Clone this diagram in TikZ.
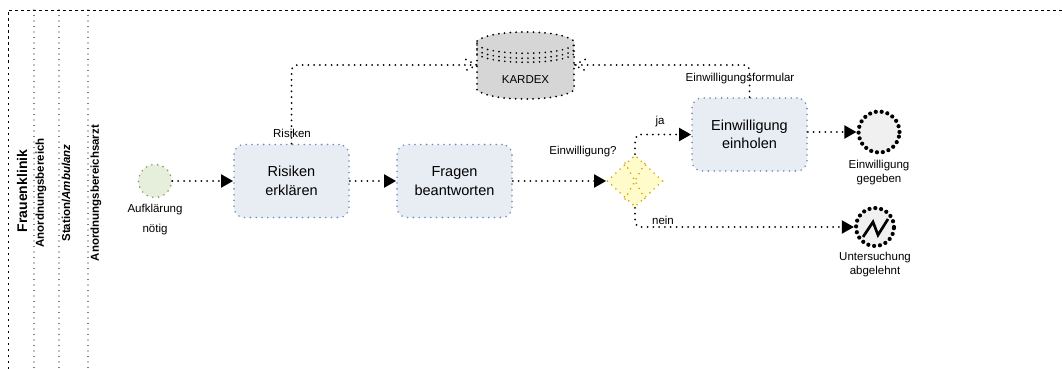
\documentclass[tikz,border=0pt]{standalone}
\usepackage{fontspec}
\setmainfont{Liberation Sans}
\usetikzlibrary{arrows.meta,shapes.geometric}
\definecolor{taskfill}{HTML}{E8EDF4}
\definecolor{taskline}{HTML}{6C8EBF}
\definecolor{gatefill}{HTML}{FFFBCB}
\definecolor{gateline}{HTML}{D6A300}
\definecolor{startfill}{HTML}{E6EFDC}
\definecolor{startline}{HTML}{82A35C}

\begin{document}
\begin{tikzpicture}
  [x=1pt,y=-1pt,align=center,font=\fontsize{11.5}{14}\selectfont,
   dots/.style={line cap=round,dash pattern=on 0pt off 5.8pt},
   flow/.style={draw,dots,line width=2pt,rounded corners=6pt,-{Triangle[length=12pt,width=13pt]}},
   ref/.style={draw,dots,line width=2pt,rounded corners=6pt},
   lane/.style={draw,line width=1.3pt,line cap=round,dash pattern=on 0pt off 5.5pt},
   lanetitle/.style={rotate=90,font=\fontsize{11.5}{12}\selectfont\bfseries,inner sep=0pt},
   taskbox/.style={rectangle,rounded corners=10pt,draw=taskline,dots,line width=1.8pt,fill=taskfill,
     minimum width=115pt,minimum height=73pt,font=\fontsize{14.5}{18.5}\selectfont},
   gatebox/.style={diamond,aspect=1.08,draw=gateline,dots,line width=1.8pt,fill=gatefill,inner sep=0pt,
     minimum width=56pt,minimum height=52pt},
   startev/.style={circle,draw=startline,dots,line width=1.8pt,fill=startfill,inner sep=0pt,minimum size=33pt},
   endev/.style={circle,draw,line cap=round,dash pattern=on 0pt off 5.9pt,line width=4.2pt,fill=black!6,inner sep=0pt}]

  \useasboundingbox (0,0) rectangle (1062,369);

  % pool and lanes
  \draw [line width=.9pt,dash pattern=on 2.5pt off 3.5pt] (8,369) -- (8,10) -- (1062,10);
  \draw [lane] (34,10) -- (34,369);
  \draw [lane] (59,10) -- (59,369);
  \draw [lane] (88,10) -- (88,369);
  \node (klinik) [lanetitle,font=\fontsize{14}{16}\selectfont\bfseries] at (22,191) {Frauenklinik};
  \node (bereich) [lanetitle] at (41,193) {Anordnungsbereich};
  \node (station) [lanetitle] at (66,193) {Station/\textit{Ambulanz}};
  \node (arzt) [lanetitle] at (96,193) {Anordnungsbereichsarzt};

  % data store
  \draw [dots,line width=2pt,fill=black!16]
    (477,41) .. controls (490,29) and (561,29) .. (574,41) -- (574,90)
    .. controls (561,102) and (490,102) .. (477,90) -- cycle;
  \draw [dots,line width=1.9pt] (477,45) .. controls (490,56) and (561,56) .. (574,45);
  \draw [dots,line width=1.9pt] (477,50) .. controls (490,61) and (561,61) .. (574,50);
  \draw [dots,line width=1.9pt] (477,54) .. controls (490,65) and (561,65) .. (574,54);
  \node (kardex) [rectangle,minimum width=97pt,minimum height=66pt,inner sep=0pt] at (525.5,65) {};
  \node (kardextext) at (525.5,80) {KARDEX};

  \node (start) [startev] at (155,181) {};
  \node (risiken) [taskbox,right of=start,node distance=136.5pt] {Risiken\\erklären};
  \node (fragen) [taskbox,right of=risiken,node distance=163pt] {Fragen\\beantworten};
  \node (gate) [gatebox,right of=fragen,node distance=180.5pt] {};
  \node (einholen) [taskbox] at (749.5,134.5) {Einwilligung\\einholen};
  \node (gegeben) [endev,minimum size=41pt] at (879,132) {};
  \node (abgelehnt) [endev,minimum size=38pt] at (875,227) {};

  % gateway cross
  \draw [dots,line width=1.8pt,draw=gateline] ([shift={(-10,-18)}]gate.center) -- ([shift={(10,18)}]gate.center);
  \draw [dots,line width=1.8pt,draw=gateline] ([shift={(-10,18)}]gate.center) -- ([shift={(10,-18)}]gate.center);

  % lightning
  \draw [line width=2.7pt,line join=miter] (863,237) -- (873,222) -- (878,235) -- (888,219);

  \node (startlabel) [font=\fontsize{11.5}{20}\selectfont] at (155,220) {Aufklärung\\nötig};
  \node (gegebenlabel) at (879,172.5) {Einwilligung\\gegeben};
  \node (abgelehntlabel) at (875,264.5) {Untersuchung\\abgelehnt};
  \node (gatelabel) at (583,152) {Einwilligung?};
  \node (jalabel) at (660,122) {ja};
  \node (neinlabel) at (663,220) {nein};
  \node (risikenlabel) at (292,133) {Risiken};
  \node (formlabel) at (740,79) {Einwilligungsformular};

  \draw [flow] (start) -- (risiken);
  \draw [flow] (risiken) -- (fragen);
  \draw [flow] (fragen) -- (gate);
  \draw [flow] (gate.north) |- (einholen.west);
  \draw [flow] (gate.south) |- (abgelehnt.west);
  \draw [flow] (einholen.east |- gegeben) -- (gegeben.west);

  \draw [ref] (risiken.north) |- (kardex.west);
  \draw [ref] (einholen.north) |- (kardex.east);
  \draw [dots,line width=2pt] ([shift={(-11,-5.5)}]kardex.west) -- (kardex.west) -- ([shift={(-11,5.5)}]kardex.west);
  \draw [dots,line width=2pt] ([shift={(11,-5.5)}]kardex.east) -- (kardex.east) -- ([shift={(11,5.5)}]kardex.east);
\end{tikzpicture}
\end{document}
